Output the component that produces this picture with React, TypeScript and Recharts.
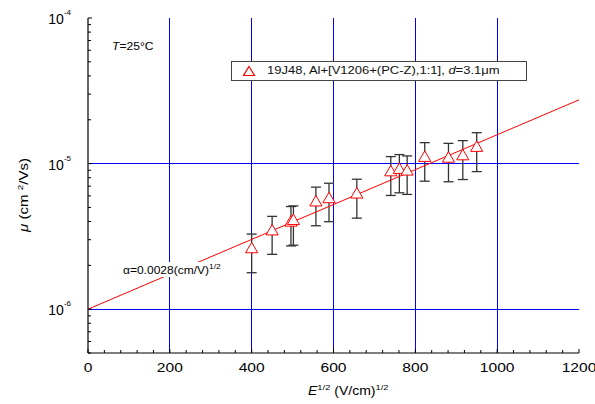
import React from 'react';
import {
  ComposedChart,
  Scatter,
  XAxis,
  YAxis,
  ZAxis,
  ErrorBar,
  ReferenceLine,
  Legend,
  Customized,
} from 'recharts';

const FONT = '"Liberation Sans", Arial, Helvetica, sans-serif';

// Square root of the field, (V/cm)^1/2
const fieldRoot = [400, 450, 496, 502, 557, 589, 657, 740, 761, 780, 823, 881, 916, 950];
// Hole mobility, cm^2/Vs
const mobility = [
  2.58e-6, 3.42e-6, 3.93e-6, 4.03e-6, 5.41e-6, 5.69e-6, 6.13e-6,
  8.71e-6, 9.05e-6, 8.81e-6, 1.094e-5, 1.081e-5, 1.122e-5, 1.282e-5,
];
// Upper and lower ends of the error bars, cm^2/Vs
const mobilityHigh = [
  3.28e-6, 4.34e-6, 5.07e-6, 5.12e-6, 6.89e-6, 7.33e-6, 7.81e-6,
  1.117e-5, 1.153e-5, 1.129e-5, 1.393e-5, 1.377e-5, 1.438e-5, 1.63e-5,
];
const mobilityLow = [
  1.78e-6, 2.38e-6, 2.72e-6, 2.75e-6, 3.74e-6, 3.99e-6, 4.22e-6,
  6.04e-6, 6.3e-6, 6.14e-6, 7.57e-6, 7.5e-6, 7.77e-6, 8.81e-6,
];

// Poole-Frenkel fit, straight on the log axis
const fitX = [0, 1200];
const fitMu = [1.0e-6, 2.74e-5];

const xMajorTicks = [0, 200, 400, 600, 800, 1000, 1200];
const xGrid = [200, 400, 600, 800, 1000];
const yDecades = [1e-6, 1e-5, 1e-4];
const yDecadeLabels = ['-6', '-5', '-4'];
const yGrid = [1e-6, 1e-5];

const X_DOMAIN: [number, number] = [0, 1200];
const Y_DOMAIN: [number, number] = [5e-7, 1e-4];

const xMinorStep = 40;
const xTicks: number[] = [];
for (let v = X_DOMAIN[0]; v <= X_DOMAIN[1]; v += xMinorStep) xTicks.push(v);

const yTicks: number[] = [];
[1e-7, 1e-6, 1e-5].forEach((d) => {
  for (let m = 1; m <= 9; m++) {
    const v = m * d;
    if (v >= Y_DOMAIN[0] * 0.999 && v <= Y_DOMAIN[1] * 1.001) yTicks.push(v);
  }
});
yTicks.push(1e-4);

const points = fieldRoot.map((x, i) => ({
  x,
  y: mobility[i],
  err: [mobility[i] - mobilityLow[i], mobilityHigh[i] - mobility[i]],
}));
const fitData = fitX.map((x, i) => ({ x, y: fitMu[i] }));

const isDecade = (v: number) => yDecades.findIndex((d) => Math.abs(v / d - 1) < 1e-6);

const BottomTick = (props: any) => {
  const { x, y, payload } = props;
  const v = payload.value;
  const major = xMajorTicks.includes(v);
  return (
    <g>
      <line x1={x} y1={y} x2={x} y2={y - (major ? 4 : 3)} stroke="#000" strokeWidth={1} />
      {major && (
        <text
          transform={`translate(${x},${y + 15}) scale(1.3,1)`}
          textAnchor="middle"
          dy="0.35em"
          fontSize={12}
          fontFamily={FONT}
          fill="#000"
        >
          {v}
        </text>
      )}
    </g>
  );
};

const TopTick = (props: any) => {
  const { x, y, payload } = props;
  const major = xMajorTicks.includes(payload.value);
  return <line x1={x} y1={y} x2={x} y2={y + (major ? 4 : 3)} stroke="#000" strokeWidth={1} />;
};

const LeftTick = (props: any) => {
  const { x, y, payload } = props;
  const idx = isDecade(payload.value);
  return (
    <g>
      <line x1={x} y1={y} x2={x + (idx >= 0 ? 4 : 3)} y2={y} stroke="#000" strokeWidth={1} />
      {idx >= 0 && (
        <text x={x - 17} y={y + 6} textAnchor="end" fontFamily={FONT} fill="#000">
          <tspan fontSize={14}>10</tspan>
          <tspan fontSize={8} dy={-9}>{yDecadeLabels[idx]}</tspan>
        </text>
      )}
    </g>
  );
};

const RightTick = (props: any) => {
  const { x, y, payload } = props;
  const major = isDecade(payload.value) >= 0;
  return <line x1={x} y1={y} x2={x - (major ? 4 : 3)} y2={y} stroke="#000" strokeWidth={1} />;
};

const LegendBox = () => (
  <div
    style={{
      boxSizing: 'border-box',
      width: 296,
      height: 20,
      border: '1.5px solid #444',
      background: '#fff',
      position: 'relative',
      fontFamily: FONT,
    }}
  >
    <svg width={14} height={12} style={{ position: 'absolute', left: 10, top: 3 }}>
      <polygon points="7,1.5 12.5,10.5 1.5,10.5" fill="#fff" stroke="#ff0000" strokeWidth={1.2} />
    </svg>
    <span
      style={{
        position: 'absolute',
        left: 35,
        top: 3,
        fontSize: 10,
        lineHeight: '12px',
        whiteSpace: 'nowrap',
        color: '#111',
        transform: 'scale(1.3,1)',
        transformOrigin: 'left center',
      }}
    >
      19J48, Al+[V1206+(PC-Z),1:1], <i>d</i>=3.1μm
    </span>
  </div>
);

const Annotations = () => (
  <g fontFamily={FONT} fill="#000">
    <text transform="translate(112,50) scale(1.1,1)" fontSize={11}>
      <tspan fontStyle="italic">T</tspan>=25°C
    </text>
    <text transform="translate(308,395) scale(1.17,1)" fontSize={12}>
      <tspan fontStyle="italic">E</tspan>
      <tspan fontSize={8} dy={-5}>1/2</tspan>
      <tspan dy={5}> (V/cm)</tspan>
      <tspan fontSize={8} dy={-5}>1/2</tspan>
    </text>
    <text transform="translate(28,195) rotate(-90) scale(1.25,1)" fontSize={12} textAnchor="middle">
      <tspan fontStyle="italic">μ</tspan>
      <tspan> (cm </tspan>
      <tspan fontSize={8} dy={-5}>2</tspan>
      <tspan dy={5}>/Vs)</tspan>
    </text>
  </g>
);

export default function App() {
  return (
    <div style={{ position: 'absolute', left: 0, top: 0, width: 595, height: 404, background: '#fff' }}>
      <ComposedChart
        width={595}
        height={404}
        margin={{ top: 18, right: 16, bottom: 0, left: 0 }}
      >
        <XAxis
          xAxisId="x"
          dataKey="x"
          type="number"
          domain={X_DOMAIN}
          ticks={xTicks}
          interval={0}
          allowDataOverflow
          height={51}
          tickSize={0}
          tickMargin={0}
          tickLine={false}
          axisLine={{ stroke: '#000', strokeWidth: 1.2 }}
          tick={<BottomTick />}
        />
        <XAxis
          xAxisId="xt"
          orientation="top"
          type="number"
          domain={X_DOMAIN}
          ticks={xTicks}
          interval={0}
          allowDataOverflow
          height={0}
          tickSize={0}
          tickMargin={0}
          tickLine={false}
          axisLine={{ stroke: '#000', strokeWidth: 1.2 }}
          tick={<TopTick />}
        />
        <YAxis
          yAxisId="y"
          dataKey="y"
          type="number"
          scale="log"
          domain={Y_DOMAIN}
          ticks={yTicks}
          interval={0}
          allowDataOverflow
          width={88}
          tickSize={0}
          tickMargin={0}
          tickLine={false}
          axisLine={{ stroke: '#000', strokeWidth: 1.2 }}
          tick={<LeftTick />}
        />
        <YAxis
          yAxisId="yr"
          orientation="right"
          type="number"
          scale="log"
          domain={Y_DOMAIN}
          ticks={yTicks}
          interval={0}
          allowDataOverflow
          width={0}
          tickSize={0}
          tickMargin={0}
          tickLine={false}
          axisLine={{ stroke: '#000', strokeWidth: 1.2 }}
          tick={<RightTick />}
        />
        <ZAxis range={[30, 30]} />
        {xGrid.map((v) => (
          <ReferenceLine
            key={`gx${v}`}
            xAxisId="x"
            yAxisId="y"
            x={v}
            stroke="#0000ff"
            strokeWidth={1}
            shapeRendering="crispEdges"
          />
        ))}
        {yGrid.map((v) => (
          <ReferenceLine
            key={`gy${v}`}
            xAxisId="x"
            yAxisId="y"
            y={v}
            stroke="#0000ff"
            strokeWidth={1}
            shapeRendering="crispEdges"
          />
        ))}
        <Scatter
          name="fit"
          xAxisId="x"
          yAxisId="y"
          data={fitData}
          line={{ stroke: '#ff0000', strokeWidth: 1 }}
          lineType="joint"
          shape={() => <g />}
          isAnimationActive={false}
        />
        <Scatter
          name="19J48"
          xAxisId="x"
          yAxisId="y"
          data={points}
          shape="triangle"
          fill="#ffffff"
          stroke="#ff0000"
          strokeWidth={1}
          isAnimationActive={false}
        >
          <ErrorBar
            dataKey="err"
            direction="y"
            width={5}
            stroke="#333"
            strokeWidth={1.3}
            isAnimationActive={false}
          />
        </Scatter>
        <Legend
          layout="horizontal"
          verticalAlign="middle"
          align="center"
          wrapperStyle={{ left: 231, top: 61, width: 296, height: 20 }}
          content={() => <LegendBox />}
        />
        <Customized component={Annotations} />
      </ComposedChart>
      {/* activation-parameter note, on a white patch over the fit line */}
      <div
        style={{
          position: 'absolute',
          left: 120,
          top: 262,
          width: 100,
          height: 15,
          background: '#fff',
          fontFamily: FONT,
          color: '#000',
          fontSize: 10,
          lineHeight: '15px',
          whiteSpace: 'nowrap',
        }}
      >
        <span
          style={{
            display: 'inline-block',
            marginLeft: 3,
            marginTop: 1,
            transform: 'scale(1.2,1)',
            transformOrigin: 'left center',
          }}
        >
          α=0.0028(cm/V)
          <sup style={{ fontSize: 7, verticalAlign: 0, position: 'relative', top: -5 }}>1/2</sup>
        </span>
      </div>
    </div>
  );
}
